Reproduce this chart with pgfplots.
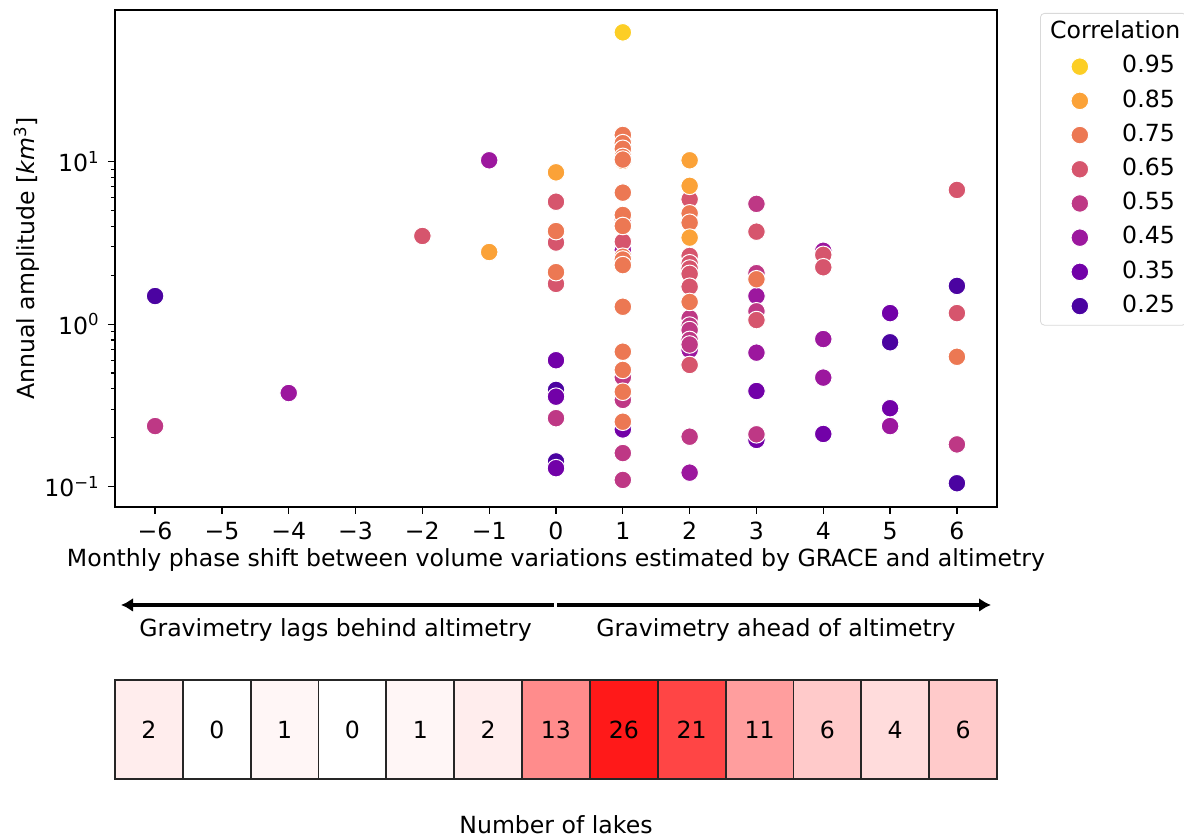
\documentclass[border=0pt]{standalone}
\usepackage{fontspec}
\setmainfont{DejaVu Sans}
\usepackage{pgfplots}
\pgfplotsset{compat=1.18}
\usetikzlibrary{arrows.meta}
\definecolor{c25}{HTML}{4B03A1}
\definecolor{c35}{HTML}{7201A8}
\definecolor{c45}{HTML}{9C179E}
\definecolor{c55}{HTML}{BE3885}
\definecolor{c65}{HTML}{D6556D}
\definecolor{c75}{HTML}{EC7853}
\definecolor{c85}{HTML}{FBA238}
\definecolor{c95}{HTML}{FCCE25}
\pgfplotsset{dot/.style={only marks, mark=*, mark size=4.4pt, mark options={fill=#1, draw=white, line width=0.5pt}}}
\begin{document}
\fontsize{11.8}{14.2}\selectfont
\begin{tikzpicture}
\useasboundingbox (0,0) rectangle (592pt,419pt);
\begin{axis}[
  at={(57.5pt,165.5pt)}, anchor=south west, scale only axis,
  width=441pt, height=248.5pt,
  xmin=-6.6, xmax=6.6, ymode=log, ymin=0.075, ymax=85.8,
  xtick={-6,-5,-4,-3,-2,-1,0,1,2,3,4,5,6},
  xticklabels={−6,−5,−4,−3,−2,−1,0,1,2,3,4,5,6},
  ytick={0.1,1,10},
  yticklabels={10\textsuperscript{−1},10\textsuperscript{0},10\textsuperscript{1}},
  tick align=outside, tick pos=left,
  major tick length=3.5pt, minor tick length=2pt,
  axis line style={line width=0.7pt},
  every tick/.style={black, line width=0.6pt},
  xlabel={Monthly phase shift between volume variations estimated by GRACE and altimetry},
  ylabel={Annual amplitude [\textit{km}\textsuperscript{3}]},
  xlabel style={at={(axis description cs:0.5,-0.1066)}, anchor=center},
  ylabel style={at={(axis description cs:-0.1,0.5)}, anchor=center},
  reverse legend,
  legend cell align=left,
  legend image code/.code={\path (-16.5pt,0pt) (16.5pt,0pt); \draw[#1] plot coordinates {(0pt,0pt)};},
  legend style={at={(axis description cs:1.0488,0.994)}, anchor=north west,
    draw=black!15, rounded corners=2pt, fill=white, inner xsep=3pt, inner ysep=1pt,
    row sep=0pt, /tikz/every odd column/.append style={column sep=4.5pt},
    nodes={inner xsep=0pt, inner ysep=2.9pt, text height=8.8pt, text depth=2.5pt}},
]
\addplot[dot=c25] table {
x y
-6 1.49
0 0.394
0 0.143
5 0.774
6 1.72
6 0.105
};
\addlegendentry{0.25}
\addplot[dot=c35] table {
x y
0 0.6
0 0.358
0 0.13
1 0.225
3 0.388
3 0.194
4 0.211
5 1.17
5 0.304
};
\addlegendentry{0.35}
\addplot[dot=c45] table {
x y
-4 0.377
-1 10.2
1 2.86
2 0.693
2 0.122
3 1.49
3 0.668
4 2.83
4 0.81
4 0.469
5 0.236
};
\addlegendentry{0.45}
\addplot[dot=c55] table {
x y
-6 0.236
0 0.264
1 0.471
1 0.342
1 0.161
1 0.11
2 1.09
2 0.98
2 0.92
2 0.80
2 0.75
2 0.203
3 5.5
3 2.06
3 1.2
3 0.21
6 0.182
};
\addlegendentry{0.55}
\addplot[dot=c65] table {
x y
-2 3.49
0 5.67
0 3.18
0 1.77
1 3.22
1 4.4
2 5.87
2 2.63
2 2.37
2 2.2
2 2.04
2 1.70
2 0.561
3 3.71
3 1.06
4 2.67
4 2.24
6 6.7
6 1.17
};
\addlegendentry{0.65}
\addplot[dot=c85, forget plot] table {
x y
1 10.1
};
\addplot[dot=c75] table {
x y
0 3.76
0 3.74
0 2.09
1 14.6
1 13.0
1 12.0
1 10.7
1 10.3
1 6.45
1 4.7
1 4.02
1 2.6
1 2.5
1 2.31
1 1.28
1 0.677
1 0.523
1 0.384
1 0.251
2 4.81
2 4.21
2 1.37
3 1.89
6 0.63
};
\addlegendentry{0.75}
\addplot[dot=c85] table {
x y
-1 2.78
0 8.6
2 10.2
2 7.1
2 3.41
};
\addlegendentry{0.85}
\addplot[dot=c95] table {
x y
1 62.5
};
\addlegendentry{0.95}
\addlegendimage{empty legend}
\addlegendentry{\hspace*{-36pt}Correlation}
\end{axis}

\draw[line width=1.7pt, -{Latex[length=6pt,width=7pt]}] (276.8pt,116.5pt) -- (60.5pt,116.5pt);
\draw[line width=1.7pt, -{Latex[length=6pt,width=7pt]}] (278.5pt,116.5pt) -- (495.5pt,116.5pt);
\node at (167.75pt,104pt) {Gravimetry lags behind altimetry};
\node at (388pt,104pt) {Gravimetry ahead of altimetry};

\begin{axis}[
  at={(57.5pt,29.5pt)}, anchor=south west, scale only axis,
  width=441pt, height=49.5pt,
  xmin=-0.5, xmax=12.5, ymin=0, ymax=1,
  xtick=\empty, ytick=\empty,
  axis line style={line width=0.9pt, black!85},
  colormap={wr}{rgb255=(255,255,255) rgb255=(255,0,0)},
  point meta min=0, point meta max=29,
  xlabel={Number of lakes},
  xlabel style={at={(axis description cs:0.5,-0.465)}, anchor=center},
]
\addplot[patch, patch type=rectangle, shader=faceted, faceted color=black!85, line width=0.9pt, point meta=explicit] coordinates {
(-0.5,0) [2] (0.5,0) [2] (0.5,1) [2] (-0.5,1) [2]
(0.5,0) [0] (1.5,0) [0] (1.5,1) [0] (0.5,1) [0]
(1.5,0) [1] (2.5,0) [1] (2.5,1) [1] (1.5,1) [1]
(2.5,0) [0] (3.5,0) [0] (3.5,1) [0] (2.5,1) [0]
(3.5,0) [1] (4.5,0) [1] (4.5,1) [1] (3.5,1) [1]
(4.5,0) [2] (5.5,0) [2] (5.5,1) [2] (4.5,1) [2]
(5.5,0) [13] (6.5,0) [13] (6.5,1) [13] (5.5,1) [13]
(6.5,0) [26] (7.5,0) [26] (7.5,1) [26] (6.5,1) [26]
(7.5,0) [21] (8.5,0) [21] (8.5,1) [21] (7.5,1) [21]
(8.5,0) [11] (9.5,0) [11] (9.5,1) [11] (8.5,1) [11]
(9.5,0) [6] (10.5,0) [6] (10.5,1) [6] (9.5,1) [6]
(10.5,0) [4] (11.5,0) [4] (11.5,1) [4] (10.5,1) [4]
(11.5,0) [6] (12.5,0) [6] (12.5,1) [6] (11.5,1) [6]
};
\addplot[only marks, mark=none, nodes near coords, point meta=explicit symbolic,
  nodes near coords style={anchor=center, text=black}] coordinates {
(0,0.5) [2] (1,0.5) [0] (2,0.5) [1] (3,0.5) [0] (4,0.5) [1] (5,0.5) [2]
(6,0.5) [13] (7,0.5) [26] (8,0.5) [21] (9,0.5) [11] (10,0.5) [6] (11,0.5) [4] (12,0.5) [6]
};
\end{axis}
\end{tikzpicture}
\end{document}
